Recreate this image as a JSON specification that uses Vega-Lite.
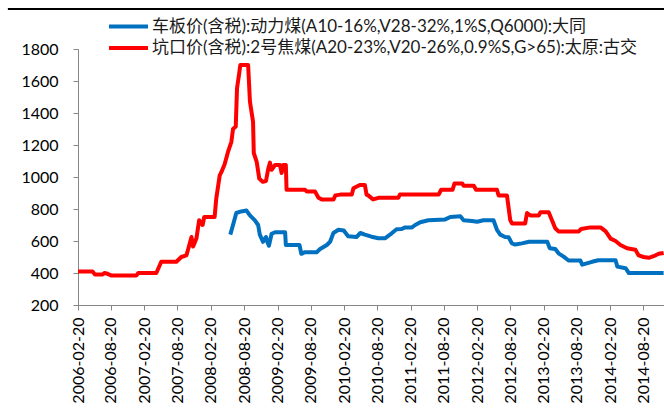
{
  "$schema": "https://vega.github.io/schema/vega-lite/v6.json",
  "width": 586,
  "height": 256,
  "autosize": "none",
  "padding": {"left": 78, "top": 49, "right": 0, "bottom": 105},
  "background": "white",
  "config": {
    "view": {"stroke": null},
    "axis": {"labelFont": "Lato", "labelFontSize": 16, "labelColor": "#000000", "domainColor": "#868686", "tickColor": "#868686", "grid": false, "title": null}
  },
  "datasets": {
    "coal": [
      {"date": "2008-06-05", "price": 640}, {"date": "2008-06-20", "price": 700}, {"date": "2008-07-08", "price": 775},
      {"date": "2008-08-04", "price": 785}, {"date": "2008-09-02", "price": 790}, {"date": "2008-09-21", "price": 760},
      {"date": "2008-10-17", "price": 730}, {"date": "2008-11-05", "price": 700}, {"date": "2008-11-14", "price": 640},
      {"date": "2008-12-02", "price": 595}, {"date": "2008-12-18", "price": 625}, {"date": "2008-12-25", "price": 595},
      {"date": "2009-01-03", "price": 570}, {"date": "2009-01-18", "price": 645}, {"date": "2009-02-06", "price": 655},
      {"date": "2009-04-02", "price": 655}, {"date": "2009-04-06", "price": 575}, {"date": "2009-06-20", "price": 575},
      {"date": "2009-06-30", "price": 520}, {"date": "2009-07-20", "price": 530}, {"date": "2009-09-22", "price": 530},
      {"date": "2009-10-11", "price": 550}, {"date": "2009-11-17", "price": 575}, {"date": "2009-12-05", "price": 595},
      {"date": "2009-12-23", "price": 650}, {"date": "2010-01-20", "price": 670}, {"date": "2010-02-18", "price": 665},
      {"date": "2010-03-14", "price": 630}, {"date": "2010-04-29", "price": 625}, {"date": "2010-05-20", "price": 650},
      {"date": "2010-06-14", "price": 640}, {"date": "2010-07-20", "price": 627}, {"date": "2010-08-27", "price": 617},
      {"date": "2010-10-02", "price": 617}, {"date": "2010-11-08", "price": 648}, {"date": "2010-12-05", "price": 673},
      {"date": "2011-01-02", "price": 675}, {"date": "2011-01-21", "price": 685}, {"date": "2011-02-27", "price": 685},
      {"date": "2011-03-17", "price": 700}, {"date": "2011-04-14", "price": 717}, {"date": "2011-05-29", "price": 730},
      {"date": "2011-08-29", "price": 735}, {"date": "2011-09-26", "price": 750}, {"date": "2011-11-20", "price": 755},
      {"date": "2011-12-08", "price": 730}, {"date": "2012-01-23", "price": 725}, {"date": "2012-02-20", "price": 720},
      {"date": "2012-03-26", "price": 730}, {"date": "2012-05-20", "price": 730}, {"date": "2012-06-08", "price": 670},
      {"date": "2012-06-26", "price": 640}, {"date": "2012-07-23", "price": 625}, {"date": "2012-08-11", "price": 623},
      {"date": "2012-08-29", "price": 585}, {"date": "2012-09-16", "price": 578}, {"date": "2012-10-23", "price": 585},
      {"date": "2012-12-01", "price": 595}, {"date": "2013-03-11", "price": 595}, {"date": "2013-03-25", "price": 555},
      {"date": "2013-04-24", "price": 550}, {"date": "2013-05-12", "price": 523}, {"date": "2013-06-09", "price": 502},
      {"date": "2013-07-06", "price": 478}, {"date": "2013-09-09", "price": 478}, {"date": "2013-09-19", "price": 452},
      {"date": "2013-10-14", "price": 460}, {"date": "2013-11-12", "price": 470}, {"date": "2013-12-16", "price": 480},
      {"date": "2014-03-21", "price": 480}, {"date": "2014-03-31", "price": 440}, {"date": "2014-05-15", "price": 430},
      {"date": "2014-06-02", "price": 400}, {"date": "2014-12-10", "price": 400}
    ],
    "coke": [
      {"date": "2006-02-20", "price": 410}, {"date": "2006-05-11", "price": 410}, {"date": "2006-05-24", "price": 390},
      {"date": "2006-07-05", "price": 390}, {"date": "2006-07-15", "price": 400}, {"date": "2006-08-01", "price": 395},
      {"date": "2006-08-21", "price": 385}, {"date": "2007-01-07", "price": 385}, {"date": "2007-01-17", "price": 400},
      {"date": "2007-04-26", "price": 400}, {"date": "2007-05-23", "price": 470}, {"date": "2007-08-14", "price": 470},
      {"date": "2007-09-10", "price": 500}, {"date": "2007-10-08", "price": 510}, {"date": "2007-10-17", "price": 545},
      {"date": "2007-11-05", "price": 625}, {"date": "2007-11-14", "price": 565}, {"date": "2007-12-02", "price": 615},
      {"date": "2007-12-17", "price": 730}, {"date": "2008-01-05", "price": 700}, {"date": "2008-01-14", "price": 750},
      {"date": "2008-03-11", "price": 750}, {"date": "2008-03-20", "price": 865}, {"date": "2008-04-08", "price": 1010},
      {"date": "2008-04-17", "price": 1030}, {"date": "2008-05-05", "price": 1080}, {"date": "2008-05-23", "price": 1155},
      {"date": "2008-06-11", "price": 1220}, {"date": "2008-06-20", "price": 1300}, {"date": "2008-07-05", "price": 1315},
      {"date": "2008-07-12", "price": 1555}, {"date": "2008-07-23", "price": 1640}, {"date": "2008-07-30", "price": 1700},
      {"date": "2008-09-11", "price": 1700}, {"date": "2008-09-21", "price": 1470}, {"date": "2008-10-08", "price": 1345},
      {"date": "2008-10-12", "price": 1150}, {"date": "2008-10-28", "price": 1095}, {"date": "2008-11-11", "price": 990},
      {"date": "2008-11-30", "price": 970}, {"date": "2008-12-18", "price": 975}, {"date": "2008-12-31", "price": 1055},
      {"date": "2009-01-09", "price": 1090}, {"date": "2009-01-18", "price": 1045}, {"date": "2009-02-06", "price": 1075},
      {"date": "2009-03-05", "price": 1075}, {"date": "2009-03-14", "price": 1025}, {"date": "2009-03-22", "price": 1075},
      {"date": "2009-04-06", "price": 1075}, {"date": "2009-04-10", "price": 920}, {"date": "2009-07-20", "price": 920},
      {"date": "2009-07-30", "price": 910}, {"date": "2009-09-13", "price": 910}, {"date": "2009-10-02", "price": 870},
      {"date": "2009-10-20", "price": 860}, {"date": "2009-12-24", "price": 860}, {"date": "2010-01-03", "price": 885},
      {"date": "2010-01-30", "price": 890}, {"date": "2010-04-03", "price": 890}, {"date": "2010-04-12", "price": 930},
      {"date": "2010-05-17", "price": 950}, {"date": "2010-06-14", "price": 950}, {"date": "2010-06-23", "price": 890},
      {"date": "2010-07-02", "price": 885}, {"date": "2010-07-29", "price": 860}, {"date": "2010-08-27", "price": 870},
      {"date": "2010-12-14", "price": 870}, {"date": "2010-12-23", "price": 890}, {"date": "2011-07-24", "price": 890},
      {"date": "2011-08-06", "price": 920}, {"date": "2011-10-08", "price": 920}, {"date": "2011-10-19", "price": 960},
      {"date": "2011-11-30", "price": 960}, {"date": "2011-12-08", "price": 945}, {"date": "2012-02-02", "price": 945},
      {"date": "2012-02-14", "price": 920}, {"date": "2012-06-08", "price": 920}, {"date": "2012-06-17", "price": 885},
      {"date": "2012-08-02", "price": 885}, {"date": "2012-08-20", "price": 730}, {"date": "2012-08-29", "price": 710},
      {"date": "2012-11-10", "price": 710}, {"date": "2012-11-20", "price": 775}, {"date": "2012-12-08", "price": 760},
      {"date": "2013-01-24", "price": 760}, {"date": "2013-02-02", "price": 780}, {"date": "2013-03-19", "price": 780},
      {"date": "2013-04-06", "price": 730}, {"date": "2013-04-24", "price": 680}, {"date": "2013-05-12", "price": 660},
      {"date": "2013-08-31", "price": 660}, {"date": "2013-09-13", "price": 675}, {"date": "2013-11-03", "price": 685},
      {"date": "2013-12-29", "price": 685}, {"date": "2014-01-26", "price": 660}, {"date": "2014-02-22", "price": 615},
      {"date": "2014-03-21", "price": 600}, {"date": "2014-04-17", "price": 575}, {"date": "2014-05-23", "price": 555},
      {"date": "2014-07-08", "price": 545}, {"date": "2014-07-26", "price": 510}, {"date": "2014-08-22", "price": 500},
      {"date": "2014-09-19", "price": 495}, {"date": "2014-10-16", "price": 505}, {"date": "2014-11-13", "price": 520},
      {"date": "2014-12-10", "price": 525}
    ],
    "topline": [
      {"start": "2005-01-31", "end": "2015-01-31", "level": 2050}
    ]
  },
  "encoding": {
    "x": {
      "field": "date",
      "type": "temporal",
      "scale": {"type": "utc", "domain": [{"year": 2006, "month": 2, "date": 20, "utc": true}, {"year": 2014, "month": 12, "date": 12, "utc": true}]},
      "axis": {
        "format": "%Y-%m-%d",
        "labelAngle": 270,
        "labelPadding": 7,
        "tickSize": 5,
        "values": [
          {"year": 2006, "month": 2, "date": 20, "utc": true}, {"year": 2006, "month": 8, "date": 20, "utc": true},
          {"year": 2007, "month": 2, "date": 20, "utc": true}, {"year": 2007, "month": 8, "date": 20, "utc": true},
          {"year": 2008, "month": 2, "date": 20, "utc": true}, {"year": 2008, "month": 8, "date": 20, "utc": true},
          {"year": 2009, "month": 2, "date": 20, "utc": true}, {"year": 2009, "month": 8, "date": 20, "utc": true},
          {"year": 2010, "month": 2, "date": 20, "utc": true}, {"year": 2010, "month": 8, "date": 20, "utc": true},
          {"year": 2011, "month": 2, "date": 20, "utc": true}, {"year": 2011, "month": 8, "date": 20, "utc": true},
          {"year": 2012, "month": 2, "date": 20, "utc": true}, {"year": 2012, "month": 8, "date": 20, "utc": true},
          {"year": 2013, "month": 2, "date": 20, "utc": true}, {"year": 2013, "month": 8, "date": 20, "utc": true},
          {"year": 2014, "month": 2, "date": 20, "utc": true}, {"year": 2014, "month": 8, "date": 20, "utc": true}
        ]
      }
    },
    "y": {
      "field": "price",
      "type": "quantitative",
      "scale": {"domain": [200, 1800], "nice": false, "zero": false},
      "axis": {"values": [200, 400, 600, 800, 1000, 1200, 1400, 1600, 1800], "format": "d", "labelPadding": 15, "tickSize": 5}
    }
  },
  "layer": [
    {
      "data": {"name": "coal"},
      "mark": {"type": "line", "strokeWidth": 4, "strokeJoin": "round"},
      "encoding": {
        "color": {
          "datum": "车板价(含税):动力煤(A10-16%,V28-32%,1%S,Q6000):大同",
          "type": "nominal",
          "scale": {
            "domain": ["车板价(含税):动力煤(A10-16%,V28-32%,1%S,Q6000):大同", "坑口价(含税):2号焦煤(A20-23%,V20-26%,0.9%S,G>65):太原:古交"],
            "range": ["#0070C0", "#FF0000"]
          },
          "legend": {
            "title": null,
            "orient": "none",
            "legendX": 42,
            "legendY": -31,
            "symbolType": "M-4,0L4,0",
            "symbolSize": 95,
            "symbolStrokeWidth": 4,
            "labelFont": "Lato, Noto Sans CJK SC",
            "labelFontSize": 17,
            "labelColor": "#1a1a1a",
            "labelLimit": 700,
            "labelOffset": 15,
            "rowPadding": 3.6
          }
        }
      }
    },
    {
      "data": {"name": "coke"},
      "mark": {"type": "line", "strokeWidth": 4, "strokeJoin": "round"},
      "encoding": {
        "color": {"datum": "坑口价(含税):2号焦煤(A20-23%,V20-26%,0.9%S,G>65):太原:古交", "type": "nominal"}
      }
    },
    {
      "data": {"name": "topline"},
      "mark": {"type": "rule", "color": "#000000", "strokeWidth": 2, "clip": false},
      "encoding": {
        "x": {"field": "start", "type": "temporal"},
        "x2": {"field": "end"},
        "y": {"field": "level", "type": "quantitative"}
      }
    }
  ]
}
